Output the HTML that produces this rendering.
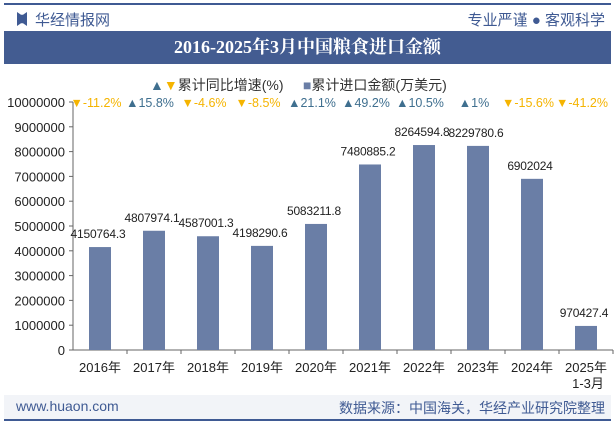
<!DOCTYPE html>
<html><head><meta charset="utf-8"><style>
body{margin:0;width:615px;height:427px;background:#fff;font-family:"Liberation Sans","Noto Sans CJK SC",sans-serif;overflow:hidden;position:relative}
.a{position:absolute}
</style></head><body>
<div class="a" style="left:4px;top:3px;width:607px;height:2px;background:#3f5a93"></div>
<div class="a" style="left:17px;top:12px;width:10px;height:14px;background:#3f5a93;clip-path:polygon(0 0,40% 20%,60% 20%,100% 0,100% 100%,60% 80%,40% 80%,0 100%)"></div>
<div class="a" style="left:35px;top:9px;font-size:15px;color:#3f5a93">华经情报网</div>
<div class="a" style="right:10px;top:9px;font-size:15px;color:#3f5a93">专业严谨 ● 客观科学</div>
<div class="a" style="left:4px;top:31px;width:607px;height:33px;background:#435c91;color:#fff;font-size:18px;font-weight:bold;text-align:center;line-height:33px;font-family:'Liberation Serif','Noto Serif CJK SC',serif">2016-2025年3月中国粮食进口金额</div>
<div class="a" style="left:150px;top:75px;font-size:14px;color:#333"><span style="color:#3f6f8f">▲</span><span style="color:#f5b400">▼</span>累计同比增速(%) &nbsp;&nbsp;&nbsp;&nbsp;<span style="color:#6a7ea6">■</span>累计进口金额(万美元)</div>
<svg class="a" style="left:0;top:0" width="615" height="427" id="c"></svg>
<div class="a" style="left:4px;top:395px;width:607px;height:25px;background:#f2f4f8"></div>
<div class="a" style="left:4px;top:419px;width:607px;height:2px;background:#3f5a93"></div>
<div class="a" style="left:16px;top:398px;font-size:14px;color:#3f5a93">www.huaon.com</div>
<div class="a" style="right:10px;top:398px;font-size:14px;color:#3f5a93">数据来源：中国海关，华经产业研究院整理</div>
<script>
const categories=["2016年","2017年","2018年","2019年","2020年","2021年","2022年","2023年","2024年","2025年"];
const values=[4150764.3,4807974.1,4587001.3,4198290.6,5083211.8,7480885.2,8264594.8,8229780.6,6902024,970427.4];
const valueLabels=["4150764.3","4807974.1","4587001.3","4198290.6","5083211.8","7480885.2","8264594.8","8229780.6","6902024","970427.4"];
const growth=[-11.2,15.8,-4.6,-8.5,21.1,49.2,10.5,1,-15.6,-41.2];
const yTicks=[0,1000000,2000000,3000000,4000000,5000000,6000000,7000000,8000000,9000000,10000000];
const NS="http://www.w3.org/2000/svg",svg=document.getElementById('c');
const x0=73,x1=613,y0=350,y1=102,step=(x1-x0)/categories.length;
const y=v=>y0-(v/10000000)*(y0-y1);
const cx=i=>x0+step*(i+0.5);
function mk(t,a,txt){const e=document.createElementNS(NS,t);for(const k in a)e.setAttribute(k,a[k]);if(txt!==undefined)e.textContent=txt;svg.appendChild(e);return e;}
const ax=mk('line',{x1:x0,y1:y1,x2:x0,y2:y0,stroke:'#666'});


const bx=mk('line',{x1:x0,y1:y0,x2:x1,y2:y0,stroke:'#666'});


yTicks.forEach(v=>{const t=mk('text',{x:x0-8,y:y(v)+5,'text-anchor':'end','font-size':13,fill:'#222'},String(v));


mk('line',{x1:x0-4,x2:x0,y1:y(v),y2:y(v),stroke:'#666'});});
categories.forEach((c,i)=>{
mk('line',{x1:x0+step*(i+1),x2:x0+step*(i+1),y1:y0,y2:y0+4,stroke:'#666'});
const b=mk('rect',{x:cx(i)-11,y:y(values[i]),width:22,height:y0-y(values[i]),fill:'#6a7ea6'});


const l=mk('text',{x:cx(i)-2,y:y(values[i])-9,'text-anchor':'middle','font-size':12,'letter-spacing':'-0.2',fill:'#222'},valueLabels[i]);


const xl=mk('text',{x:cx(i),y:372,'text-anchor':'middle','font-size':13,fill:'#222'},c);


if(i===categories.length-1){const s=mk('text',{x:cx(i)+2,y:388,'text-anchor':'middle','font-size':13,fill:'#222'},'1-3月');}
const up=growth[i]>=0;
const g=mk('text',{x:cx(i)-4,y:107,'text-anchor':'middle','font-size':12.5,fill:up?'#3f6f8f':'#f5b400'},(up?'▲':'▼')+growth[i]+'%');


});
</script>
</body></html>
